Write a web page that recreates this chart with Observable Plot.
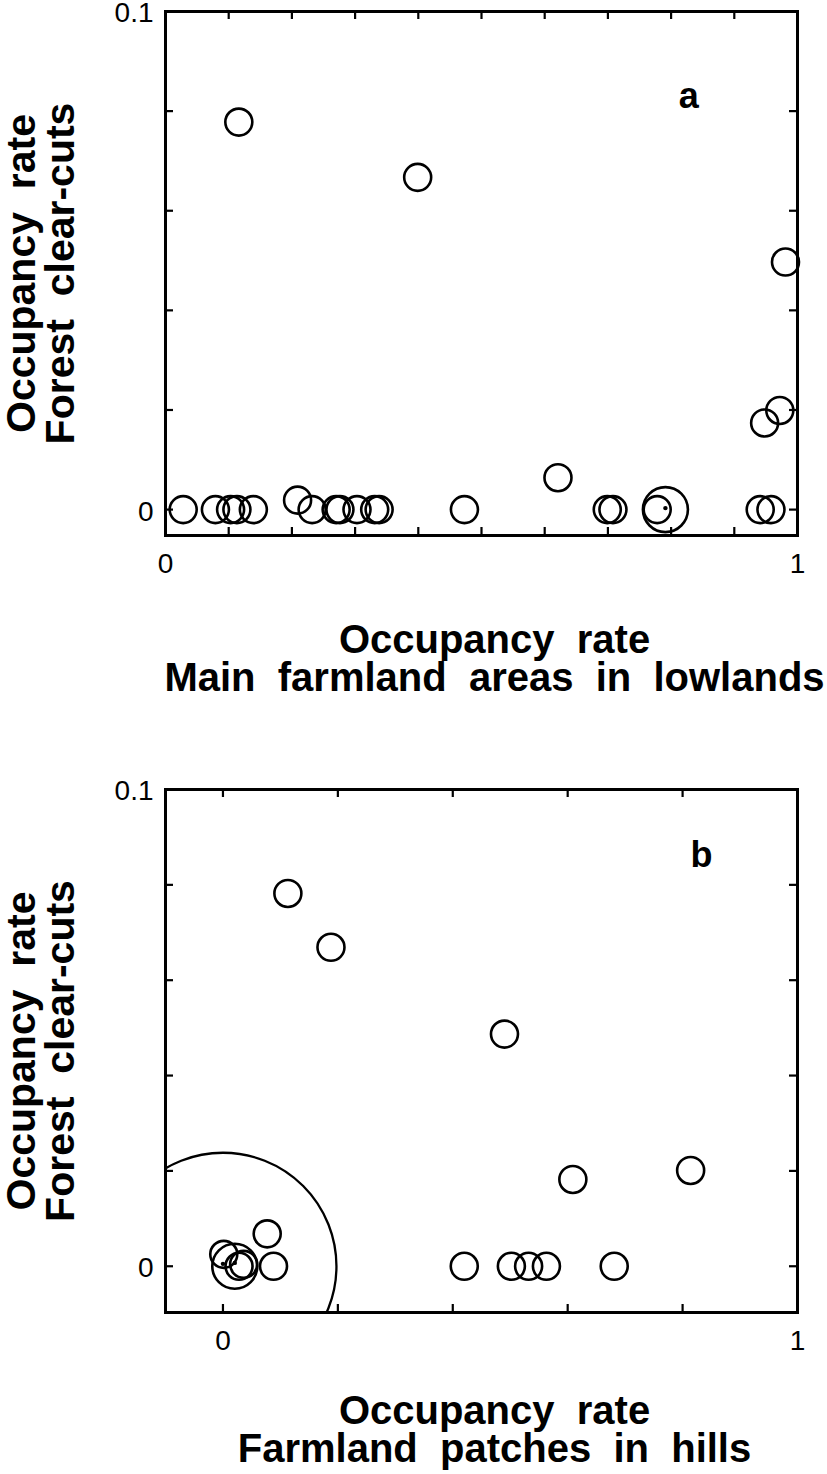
<!DOCTYPE html>
<html>
<head>
<meta charset="utf-8">
<script src="https://cdn.jsdelivr.net/npm/d3@7"></script>
<script src="https://cdn.jsdelivr.net/npm/@observablehq/plot@0.6"></script>
<style>
  html, body { margin: 0; padding: 0; background: #fff; }
  #chart svg { display: block; }
</style>
</head>
<body>
<div id="chart"></div>
<script>
// ---------- Panel a : Main farmland areas in lowlands ----------
const aSmallX = [0.028, 0.079, 0.103, 0.113, 0.139, 0.209, 0.232, 0.270, 0.276, 0.303, 0.331, 0.338,
                 0.473, 0.621, 0.699, 0.708, 0.778, 0.941, 0.958, 0.948, 0.972, 0.116, 0.399, 0.981];
const aSmallY = [0, 0, 0, 0, 0, 0.0019, 0, 0, 0, 0, 0, 0,
                 0, 0.0064, 0, 0, 0, 0, 0, 0.0174, 0.0199, 0.0778, 0.0667, 0.0497];
const aLargeX = [0.791];
const aLargeY = [0];
const aCentreX = [0.791];
const aCentreY = [0.0003];

// ---------- Panel b : Farmland patches in hills ----------
const bSmallX = [0.0014, 0.028, 0.036, 0.077, 0.088, 0.420, 0.502, 0.532, 0.563, 0.681,
                 0.609, 0.814, 0.113, 0.188, 0.490];
const bSmallY = [0.0025, 0, 0.0004, 0.0068, 0, 0, 0, 0, 0, 0,
                 0.0182, 0.0201, 0.0782, 0.0669, 0.0487];
const bLargeX = [0.0206];
const bLargeY = [0];
const bHugeX = [0];
const bHugeY = [0];
const bCentreX = [0, 0.0206];
const bCentreY = [0.0005, 0.0007];

// ---------- ticks and labels ----------
const aXTicks = [0.1, 0.2, 0.3, 0.4, 0.5, 0.6, 0.7, 0.8, 0.9];
const aYTicks = [0, 0.02, 0.04, 0.06, 0.08];
const bXTicks = [0, 0.2, 0.4, 0.6, 0.8];
const bYTicks = [0, 0.02, 0.04, 0.06, 0.08];
const xTickLabels = [0, 1];
const yTickLabels = [0, 0.1];

const yTitle = ["Occupancy  rate", "Forest  clear-cuts"];
const aXTitle = ["Occupancy  rate", "Main  farmland  areas  in  lowlands"];
const bXTitle = ["Occupancy  rate", "Farmland  patches  in  hills"];

const FONT = "'Liberation Sans', Arial, Helvetica, sans-serif";
const pts = (X, Y) => X.map((x, i) => ({x, y: Y[i]}));

function panel(cfg) {
  const W = 827, H = 737, mL = 165, mR = 30;
  const fw = W - mL - mR, fh = H - cfg.mT - cfg.mB;
  const T = 8;
  const circ = {x: "x", y: "y", stroke: "black", strokeWidth: 2.6, fill: "none"};
  const titleOpts = {text: d => d, fontWeight: "bold", fill: "black", lineAnchor: "bottom", textAnchor: "middle", ariaLabel: "title"};
  const tickLabelOpts = {text: d => String(d), fontSize: 28, fill: "black", ariaLabel: "ticklabel"};
  const svg = Plot.plot({
    width: W, height: H,
    marginLeft: mL, marginRight: mR, marginTop: cfg.mT, marginBottom: cfg.mB,
    x: {domain: cfg.xDomain, label: null, axis: null},
    y: {domain: cfg.yDomain, label: null, axis: null},
    style: {fontFamily: FONT, background: "#fff", overflow: "visible", color: "black"},
    marks: [
      Plot.dot(pts(cfg.hugeX, cfg.hugeY), {...circ, r: 113.5, strokeWidth: 2.3, clip: true}),
      Plot.dot(pts(cfg.smallX, cfg.smallY), {...circ, r: 13.5}),
      Plot.dot(pts(cfg.largeX, cfg.largeY), {...circ, r: 22.5}),
      Plot.dot(pts(cfg.centreX, cfg.centreY), {x: "x", y: "y", r: 2.2, fill: "black"}),
      Plot.tickX(cfg.xTicks, {x: d => d, insetTop: fh - T, strokeWidth: 2.2, stroke: "black"}),
      Plot.tickX(cfg.xTicks, {x: d => d, insetBottom: fh - T, strokeWidth: 2.2, stroke: "black"}),
      Plot.tickY(cfg.yTicks, {y: d => d, insetRight: fw - T, strokeWidth: 2.2, stroke: "black"}),
      Plot.tickY(cfg.yTicks, {y: d => d, insetLeft: fw - T, strokeWidth: 2.2, stroke: "black"}),
      Plot.frame({stroke: "black", strokeWidth: 3}),
      Plot.text(xTickLabels, {...tickLabelOpts, x: d => d, frameAnchor: "bottom", lineAnchor: "top", dy: 18}),
      Plot.text(yTickLabels, {...tickLabelOpts, y: d => d, frameAnchor: "left", textAnchor: "end", lineAnchor: "middle", dx: -12, dy: 2}),
      Plot.text([cfg.letter], {x: cfg.letterX, y: cfg.letterY, text: d => d, fontSize: 36, fontWeight: "bold", lineAnchor: "bottom", fill: "black"}),
      Plot.text([cfg.xTitle[0]], {...titleOpts, frameAnchor: "bottom", dx: 13, dy: cfg.t1, fontSize: 40}),
      Plot.text([cfg.xTitle[1]], {...titleOpts, frameAnchor: "bottom", dx: 13, dy: cfg.t2, fontSize: 40}),
      Plot.text([yTitle[0]], {...titleOpts, frameAnchor: "left", rotate: -90, dx: 34 - mL, fontSize: 41}),
      Plot.text([yTitle[1]], {...titleOpts, frameAnchor: "left", rotate: -90, dx: 73 - mL, fontSize: 41})
    ]
  });
  const s = d3.select(svg);
  s.selectAll('g[aria-label="title"] text').style("letter-spacing", "0.5px");
  s.selectAll('g[aria-label="ticklabel"] text').style("letter-spacing", "1px");
  return svg;
}

const chart = document.getElementById("chart");
chart.appendChild(panel({
  mT: 11, mB: 202,
  xDomain: [0, 1], yDomain: [-0.0052, 0.1],
  smallX: aSmallX, smallY: aSmallY, largeX: aLargeX, largeY: aLargeY,
  hugeX: [], hugeY: [], centreX: aCentreX, centreY: aCentreY,
  xTicks: aXTicks, yTicks: aYTicks,
  letter: "a", letterX: 0.828, letterY: 0.0807,
  xTitle: aXTitle, t1: 117, t2: 155
}));
chart.appendChild(panel({
  mT: 52, mB: 162,
  xDomain: [-0.1, 1.0], yDomain: [-0.0097, 0.1],
  smallX: bSmallX, smallY: bSmallY, largeX: bLargeX, largeY: bLargeY,
  hugeX: bHugeX, hugeY: bHugeY, centreX: bCentreX, centreY: bCentreY,
  xTicks: bXTicks, yTicks: bYTicks,
  letter: "b", letterX: 0.833, letterY: 0.0837,
  xTitle: bXTitle, t1: 111, t2: 149
}));
</script>
</body>
</html>
